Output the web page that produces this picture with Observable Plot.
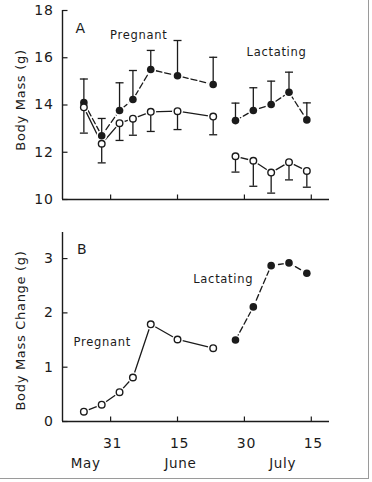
<!DOCTYPE html>
<html><head><meta charset="utf-8">
<script src="https://cdn.jsdelivr.net/npm/d3@7"></script>
<script src="https://cdn.jsdelivr.net/npm/@observablehq/plot@0.6"></script>
<style>
html,body{margin:0;padding:0;background:#fff;}
#wrap{position:relative;width:372px;height:482px;overflow:hidden;background:#fff;}
#border{position:absolute;left:0;top:0;width:368px;height:478px;border-right:1.5px solid #9a9a9a;border-bottom:1.5px solid #9a9a9a;}
#topPanel{position:absolute;left:0;top:0;}
#botPanel{position:absolute;left:0;top:220px;}
svg text{letter-spacing:0.7px;}
</style></head><body>
<div id="wrap"><div id="border"></div><div id="topPanel"></div><div id="botPanel"></div></div>
<script>
// ---- data ----
const pregDates = ["2000-05-25","2000-05-29","2000-06-02","2000-06-05","2000-06-09","2000-06-15","2000-06-23"];
const lactDates = ["2000-06-28","2000-07-02","2000-07-06","2000-07-10","2000-07-14"];
const pregMassFilled = [14.1,12.7,13.77,14.23,15.5,15.24,14.87];
const pregMassFilledUpper = [15.1,13.43,14.94,15.46,16.31,16.73,16.02];
const pregMassOpen = [13.9,12.36,13.23,13.42,13.71,13.74,13.51];
const pregMassOpenLower = [12.81,11.55,12.5,12.72,12.88,12.96,12.74];
const lactMassFilled = [13.34,13.77,14.02,14.54,13.37];
const lactMassFilledUpper = [14.08,14.73,15.01,15.39,14.09];
const lactMassOpen = [11.83,11.64,11.14,11.58,11.21];
const lactMassOpenLower = [11.16,10.56,10.27,10.83,10.52];
const pregChange = [0.18,0.31,0.54,0.81,1.79,1.51,1.35];
const lactChange = [1.5,2.11,2.87,2.92,2.73];
const xTickDates = ["2000-05-31","2000-06-15","2000-06-30","2000-07-15"];
const xTickLabels = ["31","15","30","15"];
const monthLabels = ["May","June","July"];
const monthLabelDates = ["2000-05-25T10:00Z","2000-06-15T16:00Z","2000-07-08T14:00Z"];
const massTicks = [10,12,14,16,18];
const changeTicks = [0,1,2,3];
const massLabel = "Body Mass (g)";
const changeLabel = "Body Mass Change (g)";
const topNotes = [{t:"A", d:"2000-05-24T06:00Z", v:17.24, s:14},{t:"Pregnant", d:"2000-06-06T07:00Z", v:16.94, s:11.5},{t:"Lactating", d:"2000-07-07T05:00Z", v:16.21, s:11.5}];
const botNotes = [{t:"B", d:"2000-05-24T15:00Z", v:3.16, s:14},{t:"Pregnant", d:"2000-05-29T03:00Z", v:1.45, s:11.5},{t:"Lactating", d:"2000-06-25T06:00Z", v:2.61, s:11.5}];
const xDomain = ["2000-05-20T05:00Z","2000-07-19T02:00Z"];

// ---- helpers ----
const P = d3.isoParse;
const ink = "#1b1b1b";
const font = "DejaVu Sans, Verdana, sans-serif";
const tickUp = {draw(c){c.moveTo(0,0);c.lineTo(0,-5);}};
const tickRight = {draw(c){c.moveTo(0,0);c.lineTo(5,0);}};
const cap = {draw(c){c.moveTo(-4,0);c.lineTo(4,0);}};
const x0 = P(xDomain[0]);

function rows(dates, v, e){return dates.map((d,i)=>({date:P(d), v:v[i], e:e?e[i]:null}));}
const pf = rows(pregDates, pregMassFilled, pregMassFilledUpper);
const po = rows(pregDates, pregMassOpen, pregMassOpenLower);
const lf = rows(lactDates, lactMassFilled, lactMassFilledUpper);
const lo = rows(lactDates, lactMassOpen, lactMassOpenLower);
const pc = rows(pregDates, pregChange);
const lc = rows(lactDates, lactChange);

function frameMarks(yMin, yTicks){
  return [
    Plot.ruleX([x0], {stroke: ink, strokeWidth: 1.4}),
    Plot.ruleY([yMin], {stroke: ink, strokeWidth: 1.4}),
    Plot.dot(xTickDates, {x: d=>P(d), y: ()=>yMin, symbol: tickUp, stroke: ink, strokeWidth: 1.2}),
    Plot.dot(yTicks, {x: ()=>x0, y: d=>d, symbol: tickRight, stroke: ink, strokeWidth: 1.2}),
    Plot.text(yTicks, {x: ()=>x0, y: d=>d, text: d=>String(d), textAnchor: "end", dx: -9, fontSize: 14, fill: ink})
  ];
}
function yLabel(label, dy){
  return Plot.text([label], {frameAnchor: "left", textAnchor: "middle", rotate: -90, dx: -42, dy, fontSize: 13, fill: ink, text: d=>d});
}
function seriesLine(data, dashed){
  return Plot.line(data, {x:"date", y:"v", stroke: ink, strokeWidth: 1.3, strokeDasharray: dashed ? "6,3" : null});
}
function halo(data){ return Plot.dot(data, {x:"date", y:"v", r: 5.4, fill: "white", stroke: "none"}); }
function filled(data){ return Plot.dot(data, {x:"date", y:"v", r: 3.8, fill: ink, stroke: "none"}); }
function open(data){ return Plot.dot(data, {x:"date", y:"v", r: 3.3, fill: "white", stroke: ink, strokeWidth: 1.4}); }
function errBars(data){
  return [
    Plot.ruleX(data, {x:"date", y1:"v", y2:"e", stroke: ink, strokeWidth: 1.3}),
    Plot.dot(data, {x:"date", y:"e", symbol: cap, stroke: ink, strokeWidth: 1.3})
  ];
}
function notes(arr, size){
  return Plot.text(arr.filter(d=>d.s===size), {x: d=>P(d.d), y:"v", text:"t", fontSize: size, fill: ink});
}

const common = {
  width: 372, marginLeft: 62, marginRight: 43,
  style: {fontFamily: font, fontSize: "13px", color: ink, background: "transparent", overflow: "visible"}
};

const topChart = Plot.plot({
  ...common,
  height: 210, marginTop: 10, marginBottom: 11,
  x: {type: "utc", domain: xDomain.map(P), axis: null},
  y: {domain: [10, 18], axis: null},
  marks: [
    ...frameMarks(10, massTicks),
    yLabel(massLabel, -5),
    seriesLine(pf, true), seriesLine(po, false), seriesLine(lf, true), seriesLine(lo, false),
    halo(pf), halo(po), halo(lf), halo(lo),
    ...errBars(pf), ...errBars(po), ...errBars(lf), ...errBars(lo),
    filled(pf), open(po), filled(lf), open(lo),
    notes(topNotes, 11.5), notes(topNotes, 14)
  ]
});
document.getElementById("topPanel").appendChild(topChart);

const botChart = Plot.plot({
  ...common,
  height: 262, marginTop: 12, marginBottom: 61,
  x: {type: "utc", domain: xDomain.map(P), axis: null},
  y: {domain: [0, 3.48], axis: null},
  marks: [
    ...frameMarks(0, changeTicks),
    yLabel(changeLabel, 3.5),
    seriesLine(pc, false), seriesLine(lc, true),
    halo(pc), halo(lc),
    open(pc), filled(lc),
    notes(botNotes, 11.5), notes(botNotes, 14),
    Plot.text(xTickDates, {x: d=>P(d), y: ()=>0, text: (d,i)=>xTickLabels[i], dy: 22, dx: 2, fontSize: 14, fill: ink}),
    Plot.text(monthLabelDates, {x: d=>P(d), y: ()=>0, text: (d,i)=>monthLabels[i], dy: 42, fontSize: 13.5, fill: ink})
  ]
});
document.getElementById("botPanel").appendChild(botChart);
</script>
</body></html>
